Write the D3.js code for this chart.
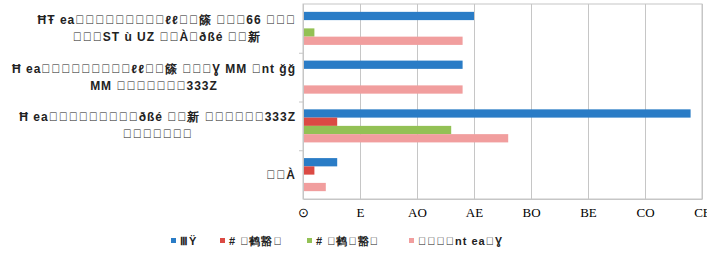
<!DOCTYPE html>
<html>
<head>
<meta charset="utf-8">
<script src="https://cdn.jsdelivr.net/npm/d3@7"></script>
<style>
  body { margin: 0; background: #fff; }
  svg text { font-family: "Liberation Sans", sans-serif; }
</style>
</head>
<body>
<div id="chart"></div>
<script>
// category labels (top to bottom), each one a list of wrapped lines
let categories = [
  ["\u0126\u0166 ea\uE5A7\uE5A9\uE5A6\uE5AC\uE5B3\uE5B5\uE5B9\uE5BB\uE5BE\u2113\u2113\uE5C2\uE5C5\u7BE8 \uE5C8\uE5CA\uE5CC66 \uE5D1\uE5D3\uE5D5",
   "\uE5DA\uE5DE\uE5E0ST \u00F9  UZ \uE5E3\uE5E5\u00C0\uE5E6\u00F0\u00DF\u00E9  \uE5E8\uE5EA\u65B0"],
  ["\u0126 ea\uE5A7\uE5A9\uE5A6\uE5AC\uE5B3\uE5B5\uE5B9\uE5BB\uE5BE\u2113\u2113\uE5C2\uE5C5\u7BE8 \uE5C8\uE5CA\uE5CC\u0194 MM \uE5CEnt \u011F\u011F",
   "MM \uE5D1\uE5D3\uE5D5\uE5D7\uE5D9\uE5DB\uE5DD333Z"],
  ["\u0126 ea\uE573\uE50F\uE532\uE52C\uE53B\uE5A4\uE5AA\uE57B\uE56B\u00F0\u00DF\u00E9  \uE50F\uE586\u65B0 \uE530\uE501\uE50F\uE5EE\uE535\uE50F333Z",
   "\uE5A0\uE5A6\uE54A\uE537\uE57A\uE596\uE574"],
  ["\uE5E8\uE5EA\u00C0"]
];
let series = ["\u2162\u0178", "# \uE54A\u9E64\u8C41\uE553", "# \uE54A\u9E64\uE5C0\u8C41\uE553", "\uE5A7\uE5A9\uE5AC\uE5B0nt ea\uE5B3\u0194"];
let blueVals = [15, 14, 34, 3];
let redVals = [0, 0, 3, 1];
let greenVals = [1, 0, 13, 0];
let pinkVals = [14, 14, 18, 2];
let tickValues = [0, 5, 10, 15, 20, 25, 30, 35];
let tickLabels = ["\u2299", "E", "AO", "AE", "BO", "BE", "CO", "CE"];

let colors = ["#2a7cc6", "#db4a44", "#93c155", "#f19e9e"];
let allVals = [blueVals, redVals, greenVals, pinkVals];

let width = 707, height = 254;
let margin = { left: 303, right: 5, top: 4, bottom: 55 };

let svg = d3.select("#chart").append("svg")
  .attr("width", width)
  .attr("height", height);

let x = d3.scaleLinear().domain([0, 35]).range([margin.left, width - margin.right]);
let y0 = d3.scaleBand().domain(d3.range(categories.length)).range([margin.top, height - margin.bottom]);
let y1 = d3.scaleBand().domain(d3.range(series.length)).range([0, y0.bandwidth()]).paddingOuter(0.95);

// plot border
svg.append("rect")
  .attr("x", margin.left).attr("y", margin.top)
  .attr("width", x(35) - x(0)).attr("height", y0.range()[1] - margin.top)
  .attr("fill", "none").attr("stroke", "#c6c6c6");

// grid
svg.append("g").selectAll("line").data(tickValues.slice(1)).join("line")
  .attr("x1", d => x(d) + 0.5).attr("x2", d => x(d) + 0.5)
  .attr("y1", margin.top).attr("y2", y0.range()[1])
  .attr("stroke", "#c6c6c6");

// bars
let groups = svg.append("g").selectAll("g").data(categories).join("g")
  .attr("transform", (d, i) => `translate(0,${y0(i)})`);

groups.selectAll("rect")
  .data((d, i) => allVals.map((s, j) => ({ s: j, v: s[i] })))
  .join("rect")
  .attr("x", x(0))
  .attr("y", d => y1(d.s))
  .attr("width", d => x(d.v) - x(0))
  .attr("height", y1.bandwidth())
  .attr("fill", d => colors[d.s]);

// x axis
let xAxis = svg.append("g")
  .attr("transform", `translate(0,${y0.range()[1]})`)
  .call(d3.axisBottom(x).tickValues(tickValues).tickSize(0).tickPadding(9)
    .tickFormat((d, i) => tickLabels[i]));
xAxis.select(".domain").attr("stroke", "#c6c6c6");
xAxis.selectAll("text").attr("font-size", 13).attr("fill", "#000")
  .style("font-family", "'Liberation Serif', serif");

// y axis: left line and category boundary ticks
let yAxis = svg.append("g").attr("transform", `translate(${margin.left},0)`);
yAxis.append("line").attr("x1", 0.5).attr("x2", 0.5)
  .attr("y1", margin.top).attr("y2", y0.range()[1]).attr("stroke", "#c6c6c6");
yAxis.selectAll("line.tk").data(d3.range(1, categories.length)).join("line")
  .attr("class", "tk")
  .attr("x1", -4).attr("x2", 0)
  .attr("y1", d => y0(d) + 0.5).attr("y2", d => y0(d) + 0.5)
  .attr("stroke", "#c6c6c6");

// category labels
let labels = svg.append("g").selectAll("text").data(categories).join("text")
  .attr("font-size", 12)
  .attr("font-weight", "bold")
  .attr("letter-spacing", 1)
  .attr("fill", "#222");

labels.each(function (lines, i) {
  let t = d3.select(this);
  let lh = 17;
  let cy = y0(i) + y0.bandwidth() / 2 - (lines.length - 1) * lh / 2;
  lines.forEach((ln, k) => {
    t.append("tspan").attr("y", cy + k * lh + 4).text(ln);
  });
  let maxW = 0;
  t.selectAll("tspan").each(function () { maxW = Math.max(maxW, this.getComputedTextLength()); });
  t.attr("text-anchor", "middle").selectAll("tspan").attr("x", 296 - maxW / 2);
});

// legend
let legendX = [171, 220, 307, 409];
let legend = svg.append("g").selectAll("g").data(series).join("g")
  .attr("transform", (d, i) => `translate(${legendX[i]},241)`);
legend.append("rect").attr("x", 0).attr("y", -3).attr("width", 5).attr("height", 5)
  .attr("fill", (d, i) => colors[i]);
legend.append("text").attr("x", 9).attr("y", 4)
  .attr("font-size", 11).attr("font-weight", "bold").attr("letter-spacing", 1).attr("fill", "#222")
  .text(d => d);
</script>
</body>
</html>
